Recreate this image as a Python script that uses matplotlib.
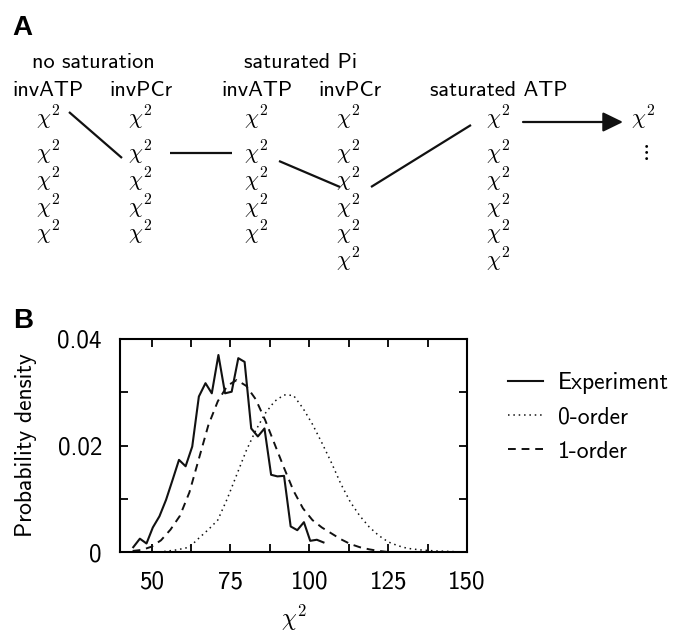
import matplotlib
matplotlib.use('Agg')
import matplotlib.pyplot as plt

plt.rcParams['mathtext.fontset'] = 'cm'
plt.rcParams['font.family'] = ['cmss10', 'DejaVu Sans']
plt.rcParams['axes.formatter.use_mathtext'] = True

# ---------------- data (panel B) ----------------
exp_x = [44.2, 46.3, 48.4, 50.4, 52.5, 54.6, 56.7, 58.7, 60.8, 62.9,
         65.0, 67.1, 69.1, 71.2, 73.3, 75.4, 77.5, 79.5, 81.6, 83.7,
         85.8, 87.9, 89.9, 92.0, 94.1, 96.2, 98.3, 100.3, 102.4, 104.5]
exp_y = [0.0009, 0.0025, 0.0016, 0.0046, 0.0067, 0.0098, 0.0136, 0.0173, 0.0161, 0.0198,
         0.0292, 0.0317, 0.0298, 0.0370, 0.0298, 0.0301, 0.0364, 0.0357, 0.0232, 0.0217,
         0.0232, 0.0145, 0.0142, 0.0143, 0.0048, 0.0041, 0.0056, 0.0021, 0.0023, 0.0018]

zero_x = [54, 58, 62, 65, 68, 71, 74, 77, 80, 83, 86, 89, 92, 95, 98,
          101, 104, 107, 110, 113, 116, 119, 122, 125, 128, 131, 135, 140, 145, 148]
zero_y = [0.0001, 0.0004, 0.0009, 0.0026, 0.0042, 0.0060, 0.0100, 0.0145, 0.0190, 0.0228,
          0.0260, 0.0283, 0.0295, 0.0294, 0.0270, 0.0240, 0.0205, 0.0168, 0.0128, 0.0094,
          0.0068, 0.0047, 0.0031, 0.0019, 0.0012, 0.0007, 0.0004, 0.0002, 0.0001, 0.0000]

one_x = [44, 47, 50, 53, 56, 59, 62, 65, 68, 71, 74, 77, 80, 83, 86, 89, 92, 95,
         98, 101, 104, 107, 110, 113, 116, 119, 122, 125]
one_y = [0.0002, 0.0004, 0.0010, 0.0022, 0.0042, 0.0068, 0.0112, 0.0175, 0.0238, 0.0283,
         0.0312, 0.0323, 0.0312, 0.0287, 0.0248, 0.0203, 0.0158, 0.0115, 0.0082, 0.0060,
         0.0046, 0.0035, 0.0024, 0.0015, 0.0009, 0.0005, 0.0002, 0.0000]

series_labels = ['Experiment', '0-order', '1-order']
x_ticks = [50, 62.5, 75, 87.5, 100, 112.5, 125, 137.5, 150]
x_ticklabels = ['50', '', '75', '', '100', '', '125', '', '150']
y_ticks = [0, 0.01, 0.02, 0.03, 0.04]
y_ticklabels = ['0', '', '0.02', '', '0.04']

# ---------------- data (panel A diagram) ----------------
group_headers = ['no saturation', 'saturated Pi']
column_headers = ['invATP', 'invPCr', 'invATP', 'invPCr', 'saturated ATP']
column_counts = [5, 5, 5, 6, 6]
# connections: (from column, from row, to column, to row)
connections = [(0, 0, 1, 1), (1, 1, 2, 1), (2, 1, 3, 2), (3, 2, 4, 0)]

# ---------------- layout ----------------
W, H = 673, 634
fig = plt.figure(figsize=(W / 100, H / 100), dpi=100)

axA = fig.add_axes([0, 0, 1, 1])
axA.set_xlim(0, W)
axA.set_ylim(H, 0)
axA.axis('off')

FS = 16
CHI_FS = 16
CHI = r'$\chi^{\mathsf{2}}$'
col_x = [48, 140, 256, 348, 498]
row_y = [118, 153, 180, 207, 233, 260]
group_x = [93, 301]
header_x = [48, 141, 257, 350, 499]
INK = '#111111'

axA.text(22, 28, 'A', fontsize=20, fontweight='bold', family='Liberation Sans',
         ha='center', va='center')
for g, gx in zip(group_headers, group_x):
    axA.text(gx, 63, g, fontsize=FS, ha='center', va='center')
for h, hx in zip(column_headers, header_x):
    axA.text(hx, 90, h, fontsize=FS, ha='center', va='center')
for cx, n in zip(col_x, column_counts):
    for r in range(n):
        axA.text(cx, row_y[r], CHI, fontsize=CHI_FS, ha='center', va='center')

# line endpoint offsets (source right side / target left side) per connection
src_off = [(21, -6), (30, 0), (23, 8), (23, 7)]
dst_off = [(-18, 5), (-24, 0), (-8, 7), (-27, 7)]
for (c0, r0, c1, r1), so, do in zip(connections, src_off, dst_off):
    axA.plot([col_x[c0] + so[0], col_x[c1] + do[0]],
             [row_y[r0] + so[1], row_y[r1] + do[1]], color=INK, lw=1.6,
             solid_capstyle='butt')

final_x = 643
axA.annotate('', xy=(final_x - 20, row_y[0] + 4), xytext=(col_x[4] + 25, row_y[0] + 4),
             arrowprops=dict(arrowstyle='-|>,head_length=0.41,head_width=0.2',
                             mutation_scale=30, lw=1.6, color=INK,
                             shrinkA=0, shrinkB=0))
axA.text(final_x, row_y[0], CHI, fontsize=CHI_FS, ha='center', va='center')
axA.text(final_x + 2, 152, r'$\vdots$', fontsize=FS, ha='center', va='center')

# ---------------- panel B ----------------
axB = fig.add_axes([120 / W, 1 - 552 / H, (467 - 120) / W, (552 - 339) / H])
axB.plot(exp_x, exp_y, color=INK, lw=1.5, label=series_labels[0])
axB.plot(zero_x, zero_y, color=INK, lw=1.1, ls=(0, (1, 2.5)), label=series_labels[1])
axB.plot(one_x, one_y, color=INK, lw=1.4, ls=(0, (4, 3)), label=series_labels[2])

axB.set_xlim(40, 150)
axB.set_ylim(0, 0.04)
axB.set_xticks(x_ticks)
axB.set_xticklabels(x_ticklabels)
axB.set_yticks(y_ticks)
axB.set_yticklabels(y_ticklabels)
axB.tick_params(direction='in', length=6, width=1.3, top=True, right=True,
                labelsize=18, pad=13)
for s in axB.spines.values():
    s.set_linewidth(1.5)
axB.set_ylabel('Probability density', fontsize=17, labelpad=15)
axB.set_xlabel(CHI, fontsize=17, labelpad=7)

fig.text(23 / W, 1 - 321 / H, 'B', fontsize=20, fontweight='bold',
         family='Liberation Sans', ha='center', va='center')

leg = axB.legend(loc='upper left', bbox_to_anchor=(508 / W, 1 - 372 / H),
                 bbox_transform=fig.transFigure, frameon=False, fontsize=17,
                 handlelength=1.5, handletextpad=0.62, labelspacing=0.52,
                 borderpad=0, borderaxespad=0)

fig.savefig('out.png', dpi=100)
